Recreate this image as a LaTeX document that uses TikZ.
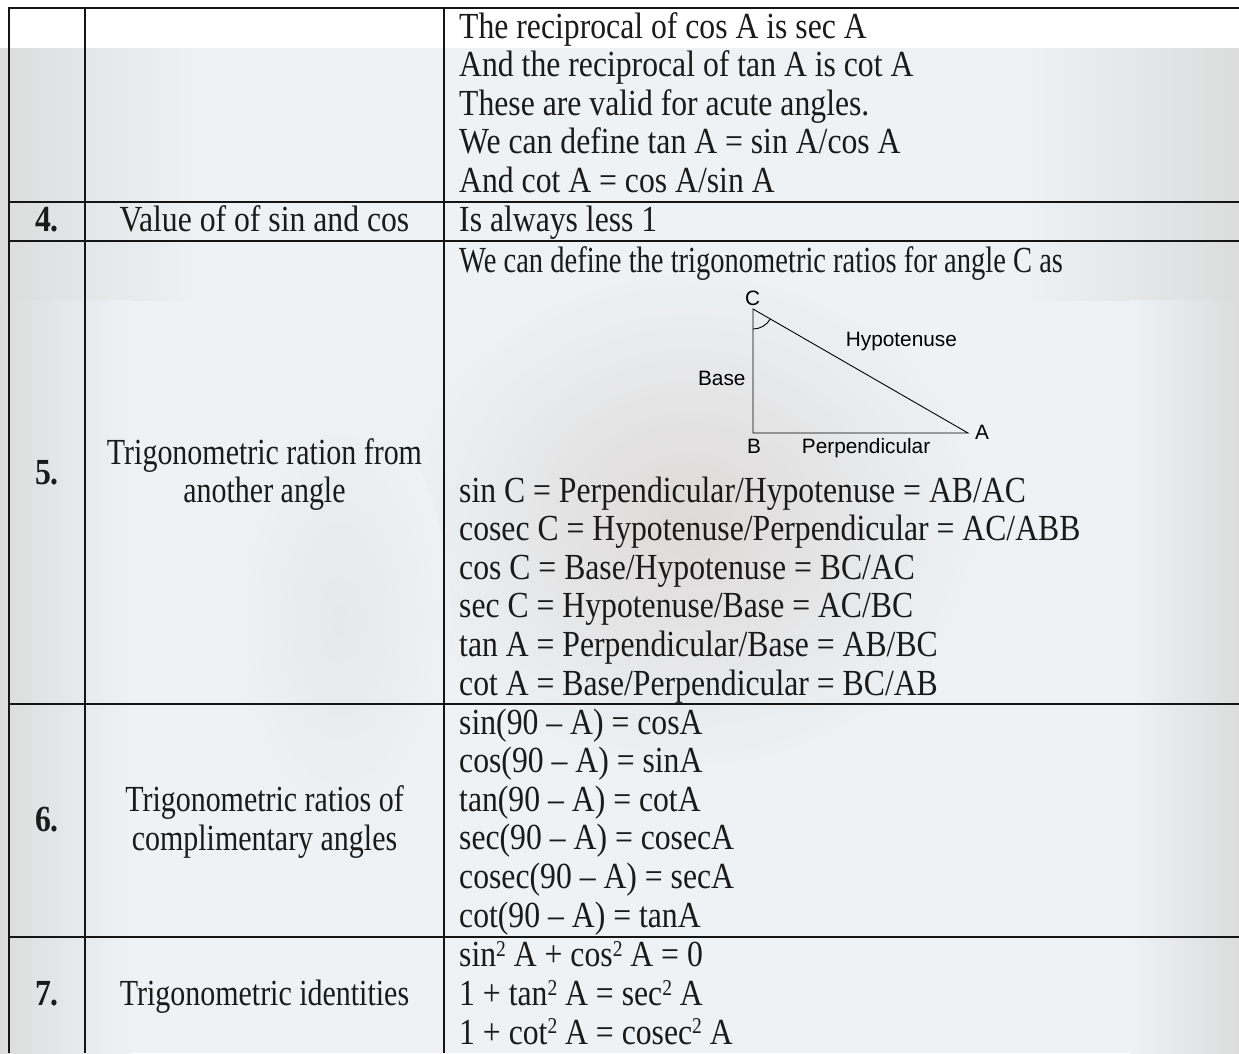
\documentclass[tikz,border=0pt]{standalone}
\usepackage{fontspec}
\usepackage{graphicx}
\setmainfont{Liberation Serif}
\newfontfamily\trisans{Liberation Sans}
\definecolor{bgbase}{HTML}{EEF2F5}
\definecolor{graybg}{HTML}{DCDCDC}
\definecolor{facebg}{HTML}{DDD9D8}
\definecolor{rulec}{HTML}{151515}
\definecolor{txtc}{HTML}{1A1A1A}
\newcommand\mainsz{\fontsize{31.7}{38.6}\selectfont}
\newcommand\vs[1]{\scalebox{1}[1.16]{#1}}
\newcommand\cond[1]{\scalebox{0.945}[1.16]{#1}}
\newcommand\sq{\raisebox{9pt}{\fontsize{19.5}{20}\selectfont 2}}
\tikzset{
  rule/.style={draw=rulec, line width=2.4pt},
  txt/.style={inner sep=0pt, anchor=base west, font=\mainsz, text=txtc},
  ctr/.style={inner sep=0pt, anchor=base, font=\mainsz, text=txtc},
  num/.style={inner sep=0pt, anchor=base, font=\mainsz\bfseries, text=txtc},
  tri/.style={draw=black, line width=0.9pt},
  trilab/.style={inner sep=0pt, font=\trisans\fontsize{20.8}{24}\selectfont, text=black},
}
\begin{document}
\begin{tikzpicture}[x=1pt,y=1pt]
\useasboundingbox (0,0) rectangle (1239,-1053);
% faded background photo (approximation)
\fill[white] (0,0) rectangle (1239,-1053);
\fill[bgbase] (0,-48) rectangle (1239,-1053);
\shade[left color=graybg, right color=bgbase] (0,-48) rectangle (200,-300);
\shade[left color=graybg, right color=bgbase] (0,-300) rectangle (130,-1053);
\shade[left color=bgbase, right color=graybg] (1020,-48) rectangle (1239,-300);
\shade[left color=bgbase, right color=graybg] (1130,-300) rectangle (1239,-1053);
\shade[inner color=facebg, outer color=bgbase] (690,-520) ellipse (300 and 260);
\shade[inner color=graybg!45!bgbase, outer color=bgbase] (340,-620) ellipse (110 and 220);
% table rules
\coordinate (tl) at (9,-7.7);
\coordinate (tr) at (1239,-7.7);
\coordinate (r4l) at (9,-202);
\coordinate (r4r) at (1239,-202);
\coordinate (r5l) at (9,-241);
\coordinate (r5r) at (1239,-241);
\coordinate (r6l) at (9,-704);
\coordinate (r6r) at (1239,-704);
\coordinate (r7l) at (9,-937);
\coordinate (r7r) at (1239,-937);
\coordinate (v0t) at (9,-6.5);
\coordinate (v0b) at (9,-1053);
\coordinate (v1t) at (85,-6.5);
\coordinate (v1b) at (85,-1053);
\coordinate (v2t) at (444,-6.5);
\coordinate (v2b) at (444,-1053);
\draw[rule] (tl) -- (tr);
\draw[rule] (r4l) -- (r4r);
\draw[rule] (r5l) -- (r5r);
\draw[rule] (r6l) -- (r6r);
\draw[rule] (r7l) -- (r7r);
\draw[rule] (v0t) -- (v0b);
\draw[rule] (v1t) -- (v1b);
\draw[rule] (v2t) -- (v2b);
% row 3 (continued)
\node[txt] (a1) at (459,-38) {\vs{The reciprocal of cos A is sec A}};
\node[txt] (a2) at (459,-76.6) {\vs{And the reciprocal of tan A is cot A}};
\node[txt] (a3) at (459,-115.2) {\vs{These are valid for acute angles.}};
\node[txt] (a4) at (459,-153.8) {\vs{We can define tan A = sin A/cos A}};
\node[txt] (a5) at (459,-192.4) {\vs{And cot A = cos A/sin A}};
% row 4
\node[num] (n4) at (47,-231.5) {\vs{4.}};
\node[ctr] (l4) at (264.5,-231.5) {\vs{Value of of sin and cos}};
\node[txt] (b1) at (459,-231.5) {\vs{Is always less 1}};
% row 5
\node[num] (n5) at (47,-484) {\vs{5.}};
\node[ctr] (l5a) at (264.5,-464) {\cond{Trigonometric ration from}};
\node[ctr] (l5b) at (264.5,-502.5) {\cond{another angle}};
\node[txt] (c0) at (459,-272) {\scalebox{0.9}[1.16]{We can define the trigonometric ratios for angle C as}};
\coordinate (tC) at (753,-309);
\coordinate (tB) at (753,-433);
\coordinate (tA) at (968,-433);
\draw[tri] (tC) -- (tB) -- (tA) -- cycle;
\draw[tri] ([yshift=-20pt]tC) arc[start angle=270, end angle=330, radius=20pt];
\node[trilab, anchor=base] (lC) at (752.7,-305) {C};
\node[trilab, anchor=base west] (lH) at (845.7,-346) {Hypotenuse};
\node[trilab, anchor=base east] (lBase) at (745.7,-385) {Base};
\node[trilab, anchor=base] (lB) at (754,-453) {B};
\node[trilab, anchor=base west] (lP) at (801.7,-453) {Perpendicular};
\node[trilab, anchor=base west] (lA) at (975,-439.5) {A};
\node[txt] (c1) at (459,-502) {\vs{sin C = Perpendicular/Hypotenuse = AB/AC}};
\node[txt] (c2) at (459,-540.6) {\vs{cosec C = Hypotenuse/Perpendicular = AC/ABB}};
\node[txt] (c3) at (459,-579.2) {\vs{cos C = Base/Hypotenuse = BC/AC}};
\node[txt] (c4) at (459,-617.8) {\vs{sec C = Hypotenuse/Base = AC/BC}};
\node[txt] (c5) at (459,-656.4) {\vs{tan A = Perpendicular/Base = AB/BC}};
\node[txt] (c6) at (459,-695) {\vs{cot A = Base/Perpendicular = BC/AB}};
% row 6
\node[num] (n6) at (47,-831) {\vs{6.}};
\node[ctr] (l6a) at (264.5,-811.5) {\cond{Trigonometric ratios of}};
\node[ctr] (l6b) at (264.5,-850) {\cond{complimentary angles}};
\node[txt] (d1) at (459,-734) {\vs{sin(90 – A) = cosA}};
\node[txt] (d2) at (459,-772.6) {\vs{cos(90 – A) = sinA}};
\node[txt] (d3) at (459,-811.2) {\vs{tan(90 – A) = cotA}};
\node[txt] (d4) at (459,-849.8) {\vs{sec(90 – A) = cosecA}};
\node[txt] (d5) at (459,-888.4) {\vs{cosec(90 – A) = secA}};
\node[txt] (d6) at (459,-927) {\vs{cot(90 – A) = tanA}};
% row 7
\node[num] (n7) at (47,-1005.5) {\vs{7.}};
\node[ctr] (l7) at (264.5,-1005.5) {\cond{Trigonometric identities}};
\node[txt] (e1) at (459,-966.8) {\vs{sin\sq{} A + cos\sq{} A = 0}};
\node[txt] (e2) at (459,-1005.5) {\vs{1 + tan\sq{} A = sec\sq{} A}};
\node[txt] (e3) at (459,-1044.2) {\vs{1 + cot\sq{} A = cosec\sq{} A}};
\end{tikzpicture}
\end{document}
